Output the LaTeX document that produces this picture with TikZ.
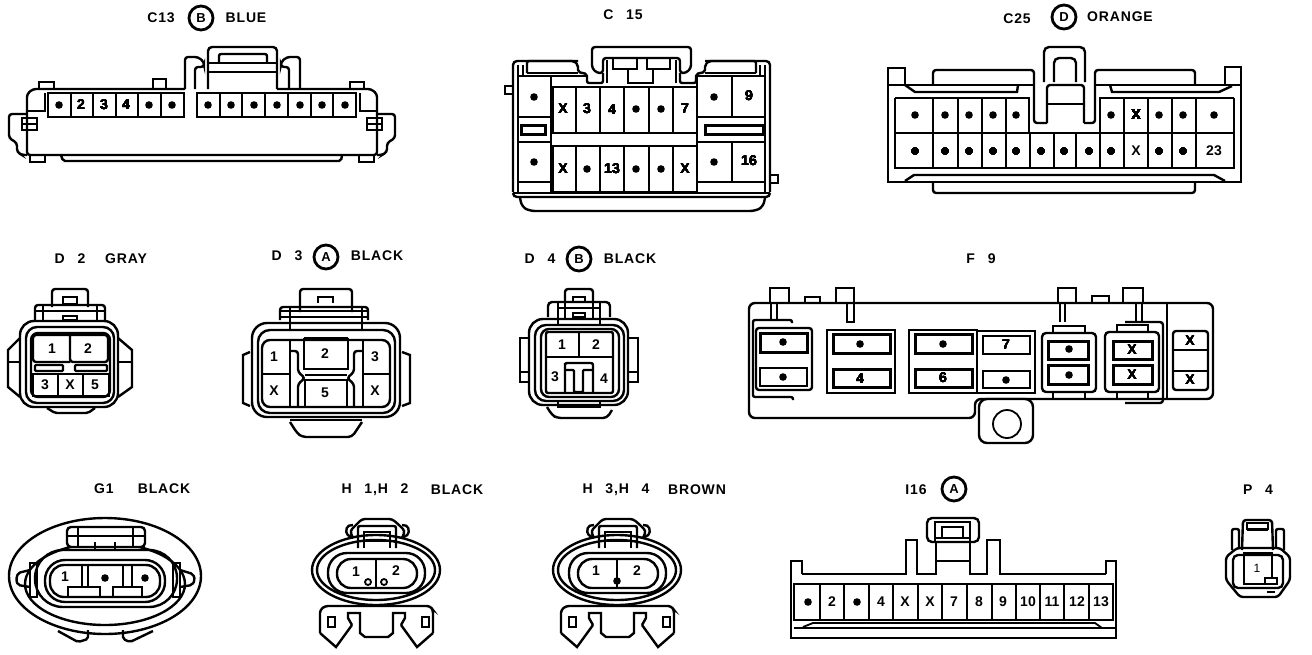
\documentclass[tikz,border=0pt]{standalone}
\usepackage{fontspec}
\setmainfont{Liberation Sans}
\newfontfamily\hdrfont[LetterSpace=6,WordSpace=2.7,BoldFont={Liberation Sans Bold}]{Liberation Sans}
\tikzset{
  hdr/.style={font=\hdrfont\bfseries\fontsize{14}{14}\selectfont,inner sep=0pt},
  pinnum/.style={font=\bfseries\fontsize{14}{14}\selectfont,inner sep=0pt},
  tagcirc/.style={circle,draw,line width=2.8pt,minimum size=24pt,inner sep=0pt,font=\bfseries\fontsize{13}{13}\selectfont},
  thinline/.style={line width=1.8pt},
  slot/.style={line width=3pt}
}
\newcommand{\pindot}[2]{\fill (#1,#2) circle (3.8pt);}
% the H connector body, used twice
\newcommand{\hbody}{%
    \draw (376,570) ellipse [x radius=64, y radius=35];
    \draw (376,570) ellipse [x radius=59, y radius=30];
    \draw[rounded corners=19] (328,553) rectangle (425,593);
    \draw[rounded corners=14] (337,559) rectangle (417,588);
    \draw[thinline] (376,559) -- (376,588);
    \draw[rounded corners=3] (353,538) -- (350,531) -- (357,524) -- (362,519) -- (392,519) -- (398,524) -- (405,531) -- (402,538);
    \draw[rounded corners=2] (353,538) -- (346,534) -- (347,526) -- (353,525);
    \draw[rounded corners=2] (402,538) -- (409,534) -- (408,526) -- (402,525);
    \draw[rounded corners=2] (358,548) -- (358,526) -- (396,526) -- (396,548);
    \draw (364,548) -- (364,532) -- (390,532) -- (390,548);
    \draw (358,541) -- (396,541);
    \draw[rounded corners=3] (320,633) -- (320,610) -- (325,606) -- (430,606) -- (433,610) -- (433,633);
    \draw (320,633) -- (336,647) -- (352,625);
    \draw (433,633) -- (417,647) -- (401,625);
    \draw (352,625) -- (348,618) -- (348,613) -- (360,613) -- (360,633) -- (365,637) -- (388,637) -- (393,633) -- (393,613) -- (405,613) -- (405,618) -- (401,625);
    \draw[thinline] (328,617) rectangle (335,627);
    \draw[thinline] (422,617) rectangle (429,627);
}

\begin{document}
\begin{tikzpicture}[x=1pt,y=-1pt,line width=2.4pt]
    \fill[white] (0,0) rectangle (1312,654);
    \useasboundingbox (0,0) rectangle (1312,654);

    % C13
    \node[hdr] (c13name) at (161,18) {C13};
    \node[tagcirc] (c13tag) at (201,18) {B};
    \node[hdr] (c13col) at (246,18) {BLUE};
    \draw[rounded corners=3] (185,89) -- (33,89) -- (27,94) -- (27,155) -- (377,155) -- (377,94) -- (371,89) -- (277,89);
    \draw[rounded corners=4] (208,89) -- (208,47) -- (277,47) -- (277,89);
    \draw[rounded corners=2] (219,62) -- (219,54) -- (267,54) -- (267,62);
    \draw (208,63) -- (277,63);
    \draw (208,72) -- (277,72);
    \draw[rounded corners=3] (185,89) -- (185,57) -- (198,57) -- (204,62) -- (204,67) -- (195,67) -- (195,89);
    \draw[rounded corners=3] (300,89) -- (300,57) -- (287,57) -- (281,62) -- (281,67) -- (289,67) -- (289,89);
    \draw (39,89) -- (39,82) -- (54,82) -- (54,89);
    \draw (153,89) -- (153,79) -- (166,79) -- (166,89);
    \draw (350,89) -- (350,82) -- (364,82) -- (364,89);
    \draw (28,111) -- (45,111) -- (45,93);
    \draw (377,111) -- (360,111) -- (360,93);
    \draw[rounded corners=3] (27,114) -- (9,114) -- (9,138) -- (17,143) -- (17,152) -- (22,155) -- (27,155);
    \draw[rounded corners=3] (377,114) -- (395,114) -- (395,138) -- (387,143) -- (387,152) -- (382,155) -- (377,155);
    \draw (22,118) rectangle (37,130);
    \draw[thinline] (22,124) -- (37,124);
    \draw (367,118) rectangle (382,130);
    \draw[thinline] (367,124) -- (382,124);
    \draw (30,155) -- (30,162) -- (45,162) -- (45,155);
    \draw (359,155) -- (359,162) -- (374,162) -- (374,155);
    \draw[rounded corners=2] (61,155) -- (63,161) -- (341,161) -- (342,155);
    \draw (48,93) rectangle (184,117);
    \foreach \x in {71,93,116,138,161} \draw[thinline] (\x,93) -- (\x,117);
    \draw (197,93) rectangle (356,117);
    \foreach \x in {220,242,265,288,311,333} \draw[thinline] (\x,93) -- (\x,117);
    \foreach \x in {59,149,172,208,231,254,277,300,322,345} \pindot{\x}{105}
    \foreach \x/\t in {81/2,104/3,126/4} \node[pinnum] (c13p\t) at (\x,105) {\t};

    % C15
    \node[hdr] (c15name) at (623,15) {C 15};
    \draw[rounded corners=4] (513,192) -- (513,61) -- (578,61);
    \draw[rounded corners=4] (770,192) -- (770,61) -- (705,61);
    \draw[rounded corners=4] (513,193) -- (513,197) -- (770,197) -- (770,193);
    \draw (513,193) -- (770,193);
    \draw[rounded corners=5] (520,198) -- (522,207) -- (530,211) -- (755,211) -- (763,207) -- (765,198);
    \draw (505,86) rectangle (513,94);
    \draw (770,175) rectangle (778,183);
    \draw[rounded corners=3] (597,73) -- (592,68) -- (592,47) -- (691,47) -- (691,68) -- (686,73) -- (680,73) -- (680,58) -- (603,58) -- (603,73) -- cycle;
    \draw (613,58) rectangle (637,69);
    \draw (647,58) rectangle (670,69);
    \draw (628,69) -- (628,83) -- (653,83) -- (653,69);
    \draw[rounded corners=2] (527,73) -- (527,61) -- (574,61) -- (578,65) -- (578,72) -- (587,74) -- (587,83) -- (603,83) -- (603,73);
    \draw[rounded corners=2] (756,73) -- (756,61) -- (709,61) -- (705,65) -- (705,72) -- (696,74) -- (696,83) -- (680,83) -- (680,73);
    \draw (607,60) -- (607,83);
    \draw (676,60) -- (676,83);
    \draw (527,73) -- (578,73);
    \draw (705,73) -- (756,73);
    \draw (518,65) -- (518,76) -- (587,76);
    \draw (523,65) -- (523,76);
    \draw (765,65) -- (765,76) -- (696,76);
    \draw (760,65) -- (760,76);
    \draw (518,76) -- (518,192);
    \draw (765,76) -- (765,192);
    \draw (551,76) -- (551,192);
    \draw (697,76) -- (697,192);
    \draw (518,117) -- (551,117);
    \draw (518,142) -- (551,142);
    \draw (518,182) -- (551,182);
    \draw (697,117) -- (765,117);
    \draw (697,142) -- (765,142);
    \draw (697,182) -- (765,182);
    \draw (732,77) -- (732,117);
    \draw (732,142) -- (732,182);
    \draw[slot] (521,125) rectangle (545,134);
    \draw[slot] (705,125) rectangle (763,134);
    \draw (553,87) rectangle (697,133);
    \draw (553,146) rectangle (697,192);
    \foreach \x in {576,600,624,649,673} {
      \draw (\x,87) -- (\x,133);
      \draw (\x,146) -- (\x,192);
    }
    \foreach \x/\y in {534/97,636/109,661/109,714/97,534/162,587/169,636/169,661/169,714/162} \pindot{\x}{\y}
    \foreach \x/\y/\t/\n in {563/109/X/a,587/109/3/b,612/110/4/c,685/109/7/d,749/96/9/e,563/169/X/f,612/169/13/g,685/169/X/h,749/161/16/i}
      \node[pinnum] (c15\n) at (\x,\y) {\t};

    % C25
    \node[hdr] (c25name) at (1017,19) {C25};
    \node[tagcirc] (c25tag) at (1064,17) {D};
    \node[hdr] (c25col) at (1120,17) {ORANGE};
    \draw (1034,85) -- (888,85) -- (888,182) -- (1241,182) -- (1241,85) -- (1095,85);
    \draw (888,85) -- (888,68) -- (905,68) -- (905,85);
    \draw (1225,85) -- (1225,67) -- (1241,67) -- (1241,85);
    \draw[rounded corners=3] (933,85) -- (933,70) -- (1034,70) -- (1034,123) -- (1047,123);
    \draw[rounded corners=3] (1195,85) -- (1195,70) -- (1095,70) -- (1095,123) -- (1084,123);
    \draw (905,85) -- (915,92) -- (1017,92) -- (1018,85);
    \draw (1110,85) -- (1112,92) -- (1219,92) -- (1232,86);
    \draw[rounded corners=5] (1044,82) -- (1044,47) -- (1085,47) -- (1085,82);
    \draw[rounded corners=5] (1054,82) -- (1054,58) -- (1076,58) -- (1076,82);
    \draw[rounded corners=3] (1047,123) -- (1047,85) -- (1084,85) -- (1084,123);
    \draw (1047,104) -- (1084,104);
    \draw (895,98) -- (1029,98) -- (1029,133);
    \draw (1100,133) -- (1100,98) -- (1234,98);
    \draw (895,98) -- (895,168) -- (1234,168) -- (1234,98);
    \draw (895,133) -- (1234,133);
    \foreach \x in {933,958,982,1006,1124,1148,1172,1196} \draw (\x,98) -- (\x,168);
    \foreach \x in {1030,1054,1076,1100} \draw (\x,133) -- (\x,168);
    \draw (905,181) -- (914,175) -- (1214,175) -- (1225,181);
    \draw[rounded corners=3] (933,182) -- (933,193) -- (1195,193) -- (1195,182);
    \foreach \x in {915,945,969,993,1016,1111,1159,1183,1214} \pindot{\x}{115}
    \foreach \x in {915,945,969,993,1016,1041,1064,1089,1111,1159,1183} \pindot{\x}{151}
    \node[pinnum] (c25a) at (1136,115) {X};
    \node[pinnum] (c25b) at (1136,151) {X};
    \node[pinnum] (c25c) at (1214,151) {23};

    % D2
    \node[hdr] (d2name) at (70,259) {D 2};
    \node[hdr] (d2col) at (126,259) {GRAY};
    \draw[rounded corners=3] (52,307) -- (52,289) -- (88,289) -- (88,307);
    \draw (63,297) rectangle (77,304);
    \draw[rounded corners=3] (35,320) -- (35,305) -- (105,305) -- (105,320);
    \draw (43,305) -- (43,322);
    \draw (97,305) -- (97,322);
    \draw (35,311) -- (105,311);
    \draw[thinline] (63,316) rectangle (77,320);
    \draw[rounded corners=14] (20,321) rectangle (118,407);
    \draw[rounded corners=11] (26,327) rectangle (114,403);
    \draw[rounded corners=7] (31,333) rectangle (110,397);
    \draw (20,338) -- (8,350) -- (8,387) -- (20,397);
    \draw (118,338) -- (132,350) -- (132,387) -- (118,397);
    \draw (8,362) -- (20,362);
    \draw (118,362) -- (132,362);
    \draw[rounded corners=3] (70,362) -- (33,362) -- (33,335) -- (108,335) -- (108,362) -- (70,362) -- (70,335);
    \draw[rounded corners=1] (35,365) rectangle (63,371);
    \draw[rounded corners=1] (75,365) rectangle (107,371);
    \draw (33,374) rectangle (109,396);
    \draw[thinline] (58,374) -- (58,396);
    \draw[thinline] (83,374) -- (83,396);
    \draw[rounded corners=2] (47,408) -- (55,413) -- (88,413) -- (95,408);
    \foreach \x/\y/\t/\n in {52/349/1/a,88/349/2/b,45/385/3/c,70/385/X/d,95/385/5/e} \node[pinnum] (d2\n) at (\x,\y) {\t};

    % D3
    \node[hdr] (d3name) at (287,256) {D 3};
    \node[tagcirc] (d3tag) at (326,257) {A};
    \node[hdr] (d3col) at (377,256) {BLACK};
    \draw[rounded corners=3] (300,312) -- (300,289) -- (352,289) -- (352,312);
    \draw (318,303) -- (318,297) -- (333,297) -- (333,303);
    \draw[rounded corners=3] (280,320) -- (280,307) -- (368,307) -- (368,320);
    \draw (290,307) -- (290,330);
    \draw (362,307) -- (362,330);
    \draw (280,311) -- (368,311);
    \draw (280,317) -- (368,317);
    \draw[rounded corners=15] (252,323) rectangle (400,417);
    \draw[rounded corners=12] (258,330) rectangle (395,413);
    \draw[rounded corners=8] (262,340) rectangle (390,407);
    \draw (262,374) -- (290,374);
    \draw (363,374) -- (390,374);
    \draw (290,340) -- (290,407);
    \draw (363,340) -- (363,407);
    \draw (304,338) -- (304,369) -- (348,369) -- (348,338);
    \draw[rounded corners=3] (290,351) -- (298,351) -- (298,372) -- (305,378) -- (298,384) -- (298,407);
    \draw[rounded corners=3] (363,351) -- (354,351) -- (354,372) -- (347,378) -- (354,384) -- (354,407);
    \draw (304,338) -- (348,338);
    \draw (305,375) -- (347,375);
    \draw (305,380) rectangle (347,407);
    \draw (250,352) -- (243,355) -- (243,403) -- (250,406);
    \draw (402,352) -- (410,355) -- (410,403) -- (402,406);
    \draw (290,420) -- (362,420);
    \draw[rounded corners=4] (290,422) -- (297,433) -- (302,437) -- (352,437) -- (362,422);
    \foreach \x/\y/\t/\n in {274/357/1/a,325/354/2/b,375/357/3/c,274/391/X/d,325/393/5/e,375/391/X/f} \node[pinnum] (d3\n) at (\x,\y) {\t};

    % D4
    \node[hdr] (d4name) at (540,259) {D 4};
    \node[tagcirc] (d4tag) at (579,259) {B};
    \node[hdr] (d4col) at (630,259) {BLACK};
    \draw[rounded corners=3] (565,303) -- (565,289) -- (593,289) -- (593,303);
    \draw (573,302) -- (573,297) -- (585,297) -- (585,302);
    \draw[rounded corners=4] (548,317) -- (548,302) -- (610,302) -- (610,317);
    \draw (558,302) -- (558,325);
    \draw (600,302) -- (600,325);
    \draw (565,303) -- (565,319);
    \draw (593,303) -- (593,319);
    \draw (558,308) -- (600,308);
    \draw (573,317) rectangle (585,313);
    \draw[rounded corners=14] (529,319) rectangle (628,405);
    \draw[rounded corners=11] (535,325) rectangle (624,401);
    \draw[rounded corners=8] (541,329) rectangle (619,397);
    \draw[rounded corners=2] (546,393) -- (546,332) -- (613,332) -- (613,393) -- cycle;
    \draw (546,357) -- (613,357);
    \draw (579,332) -- (579,357);
    \draw[rounded corners=2] (565,393) -- (565,365) -- (565,363) -- (593,363) -- (593,393);
    \draw[rounded corners=1] (565,370) -- (574,370) -- (574,392) -- (583,392) -- (583,370) -- (593,370);
    \draw (529,338) -- (520,338) -- (520,382) -- (529,382);
    \draw (628,338) -- (638,338) -- (638,382) -- (628,382);
    \draw[thinline] (520,372) -- (529,372);
    \draw[thinline] (628,372) -- (638,372);
    \draw[rounded corners=4] (547,407) -- (552,415) -- (557,418) -- (607,418) -- (612,410);
    \draw (558,401) rectangle (600,407);
    \foreach \x/\y/\t/\n in {562/345/1/a,596/345/2/b,555/377/3/c,604/379/4/d} \node[pinnum] (d4\n) at (\x,\y) {\t};

    % F9
    \node[hdr] (f9name) at (981,259) {F 9};
    \draw[rounded corners=6] (770,303) -- (749,303) -- (749,418) -- (975,418) -- (975,399) -- (983,399);
    \draw[rounded corners=6] (770,303) -- (1213,303) -- (1213,399) -- (983,399);
    \draw (1167,303) -- (1167,399);
    \draw (770,303) -- (770,288) -- (789,288) -- (789,303);
    \draw (771,303) -- (771,320);
    \draw (777,303) -- (777,320);
    \draw (805,303) -- (805,297) -- (820,297) -- (820,303);
    \draw (836,303) -- (836,288) -- (854,288) -- (854,303);
    \draw (847,303) -- (847,322) -- (854,322) -- (854,303);
    \draw (1058,303) -- (1058,288) -- (1076,288) -- (1076,303);
    \draw (1060,303) -- (1060,322);
    \draw (1065,303) -- (1065,322);
    \draw (1092,303) -- (1092,296) -- (1109,296) -- (1109,303);
    \draw (1123,303) -- (1123,288) -- (1143,288) -- (1143,303);
    \draw (1136,303) -- (1136,322);
    \draw (1142,303) -- (1142,322);
    \draw[rounded corners=2] (792,323) -- (792,320) -- (753,320) -- (753,397) -- (793,397) -- (793,400);
    \draw[rounded corners=3] (756,328) rectangle (812,390);
    \draw[slot] (760,333) rectangle (807,352);
    \draw (760,368) rectangle (807,386);
    \draw (827,330) rectangle (895,393);
    \draw[slot] (833,334) rectangle (890,353);
    \draw[slot] (833,369) rectangle (890,387);
    \draw (909,330) rectangle (977,393);
    \draw[slot] (915,334) rectangle (972,353);
    \draw[slot] (915,369) rectangle (972,387);
    \draw (977,331) rectangle (1035,393);
    \draw (983,336) rectangle (1030,354);
    \draw (983,371) rectangle (1030,388);
    \draw[rounded corners=4] (1042,333) rectangle (1096,392);
    \draw[slot] (1048,341) rectangle (1088,359);
    \draw[slot] (1048,365) rectangle (1088,384);
    \draw (1053,333) -- (1053,326) -- (1085,326) -- (1085,333);
    \draw (1053,392) -- (1053,399);
    \draw (1085,392) -- (1085,399);
    \draw[rounded corners=4] (1105,332) rectangle (1159,392);
    \draw[slot] (1113,341) rectangle (1152,359);
    \draw[slot] (1113,365) rectangle (1152,384);
    \draw (1117,332) -- (1117,325) -- (1148,325) -- (1148,332);
    \draw (1117,392) -- (1117,399);
    \draw (1148,392) -- (1148,399);
    \draw[rounded corners=3] (1125,322) -- (1163,322) -- (1163,403) -- (1125,403);
    \draw[rounded corners=3] (1173,331) rectangle (1208,390);
    \draw (1173,350) -- (1208,350);
    \draw (1173,371) -- (1208,371);
    \draw[rounded corners=8,fill=white] (979,399) rectangle (1033,443);
    \node[circle,draw,thinline,minimum size=28pt,inner sep=0pt] (f9hole) at (1007,424) {};
    \foreach \x/\y in {783/342,783/377,860/344,943/344,1006/380,1069/349,1069/375} \pindot{\x}{\y}
    \foreach \x/\y/\t/\n in {860/379/4/a,943/378/6/b,1006/345/7/c,1132/350/X/d,1132/375/X/e,1190/341/X/f,1190/380/X/g} \node[pinnum] (f9\n) at (\x,\y) {\t};

    % G1
    \node[hdr] (g1name) at (104,489) {G1};
    \node[hdr] (g1col) at (164,489) {BLACK};
    \draw (105,576) ellipse [x radius=96, y radius=58];
    \draw (105,584) ellipse [x radius=80, y radius=41];
    \draw[rounded corners=28] (35,550) rectangle (177,607);
    \draw[rounded corners=20] (45,560) rectangle (165,602);
    \draw[rounded corners=14] (50,565) rectangle (160,597);
    \draw[rounded corners=4,fill=white] (67,527) rectangle (145,547);
    \draw (78,527) -- (78,547);
    \draw (133,527) -- (133,547);
    \draw (67,536) -- (145,536);
    \draw (95,542) -- (95,550);
    \draw (115,542) -- (115,550);
    \draw (30,563) rectangle (37,597);
    \draw (173,563) rectangle (180,597);
    \draw[rounded corners=2] (30,570) -- (18,573) -- (16,580) -- (18,585) -- (30,587);
    \draw[rounded corners=2] (180,570) -- (193,574) -- (195,580) -- (192,585) -- (180,587);
    \draw (68,597) -- (68,587) -- (100,587) -- (100,597);
    \draw (113,597) -- (113,587) -- (142,587) -- (142,597);
    \draw (82,566) -- (82,587);
    \draw (88,566) -- (88,587);
    \draw (123,566) -- (123,587);
    \draw (132,566) -- (132,587);
    \draw[rounded corners=2] (58,631) -- (78,642) -- (88,639) -- (88,630);
    \draw[rounded corners=2] (123,630) -- (123,639) -- (130,642) -- (153,631);
    \node[pinnum] (g1a) at (65,577) {1};
    \pindot{105}{578}
    \pindot{145}{578}

    % H1, H2
    \node[hdr] (h1name) at (375,490) {H 1,H 2};
    \node[hdr] (h1col) at (457,490) {BLACK};
    \hbody
    \draw[thinline] (368,582) circle (3pt);
    \draw[thinline] (384,582) circle (3pt);
    \node[pinnum] (h1a) at (356,572) {1};
    \node[pinnum] (h1b) at (396,571) {2};

    % H3, H4
    \node[hdr] (h3name) at (616,490) {H 3,H 4};
    \node[hdr] (h3col) at (697,490) {BROWN};
    \begin{scope}[xshift=241pt]
      \hbody
    \end{scope}
    \pindot{617}{581}
    \node[pinnum] (h3a) at (596,571) {1};
    \node[pinnum] (h3b) at (637,571) {2};

    % I16
    \node[hdr] (i16name) at (916,490) {I16};
    \node[tagcirc] (i16tag) at (954,489) {A};
    \draw (802,574) -- (906,574) -- (906,540) -- (917,540) -- (917,574) -- (936,574) -- (936,542);
    \draw (970,542) -- (970,574) -- (987,574) -- (987,540) -- (1000,540) -- (1000,574) -- (1106,574);
    \draw (936,561) -- (970,561);
    \draw[rounded corners=5] (927,542) -- (927,518) -- (979,518) -- (979,542) -- cycle;
    \draw (935,542) -- (935,522) -- (970,522) -- (970,542);
    \draw (942,538) -- (942,527) -- (963,527) -- (963,538);
    \draw (936,538) -- (970,538);
    \draw (802,574) -- (802,561) -- (791,561) -- (791,574) -- (791,638) -- (1116,638) -- (1116,561) -- (1106,561) -- (1106,574);
    \draw (794,584) rectangle (1113,620);
    \foreach \x in {820,844,869,893,918,942,967,992,1016,1040,1064,1089} \draw[thinline] (\x,584) -- (\x,620);
    \draw[thinline] (803,627) -- (813,623) -- (1095,623) -- (1102,628);
    \draw (794,628) -- (1116,628);
    \pindot{808}{602}
    \pindot{857}{602}
    \foreach \x/\t in {832/2,881/4,905/X,930/X,954/7,979/8,1003/9,1028/10,1052/11,1077/12,1101/13} \node[pinnum] (i16\x) at (\x,602) {\t};

    % P4
    \node[hdr] (p4name) at (1258,490) {P 4};
    \draw[rounded corners=3] (1242,550) -- (1243,520) -- (1272,520) -- (1273,550);
    \draw (1247,530) -- (1268,530);
    \draw[thinline] (1247,523) rectangle (1268,529);
    \draw[rounded corners=2] (1232,550) -- (1232,529) -- (1239,529) -- (1239,548);
    \draw[rounded corners=2] (1276,548) -- (1276,529) -- (1284,529) -- (1284,550);
    \draw[rounded corners=3] (1226,557) -- (1226,580) -- (1240,597) -- (1278,597) -- (1290,580) -- (1290,557) -- (1280,548) -- (1237,548) -- cycle;
    \draw[rounded corners=5] (1233,555) rectangle (1283,588);
    \draw (1244,553) rectangle (1272,584);
    \draw[fill=white] (1265,578) rectangle (1277,584);
    \draw[thinline] (1267,592) -- (1275,592);
    \node[font=\fontsize{12}{12}\selectfont,inner sep=0pt] (p4a) at (1257,568) {1};
\end{tikzpicture}
\end{document}
